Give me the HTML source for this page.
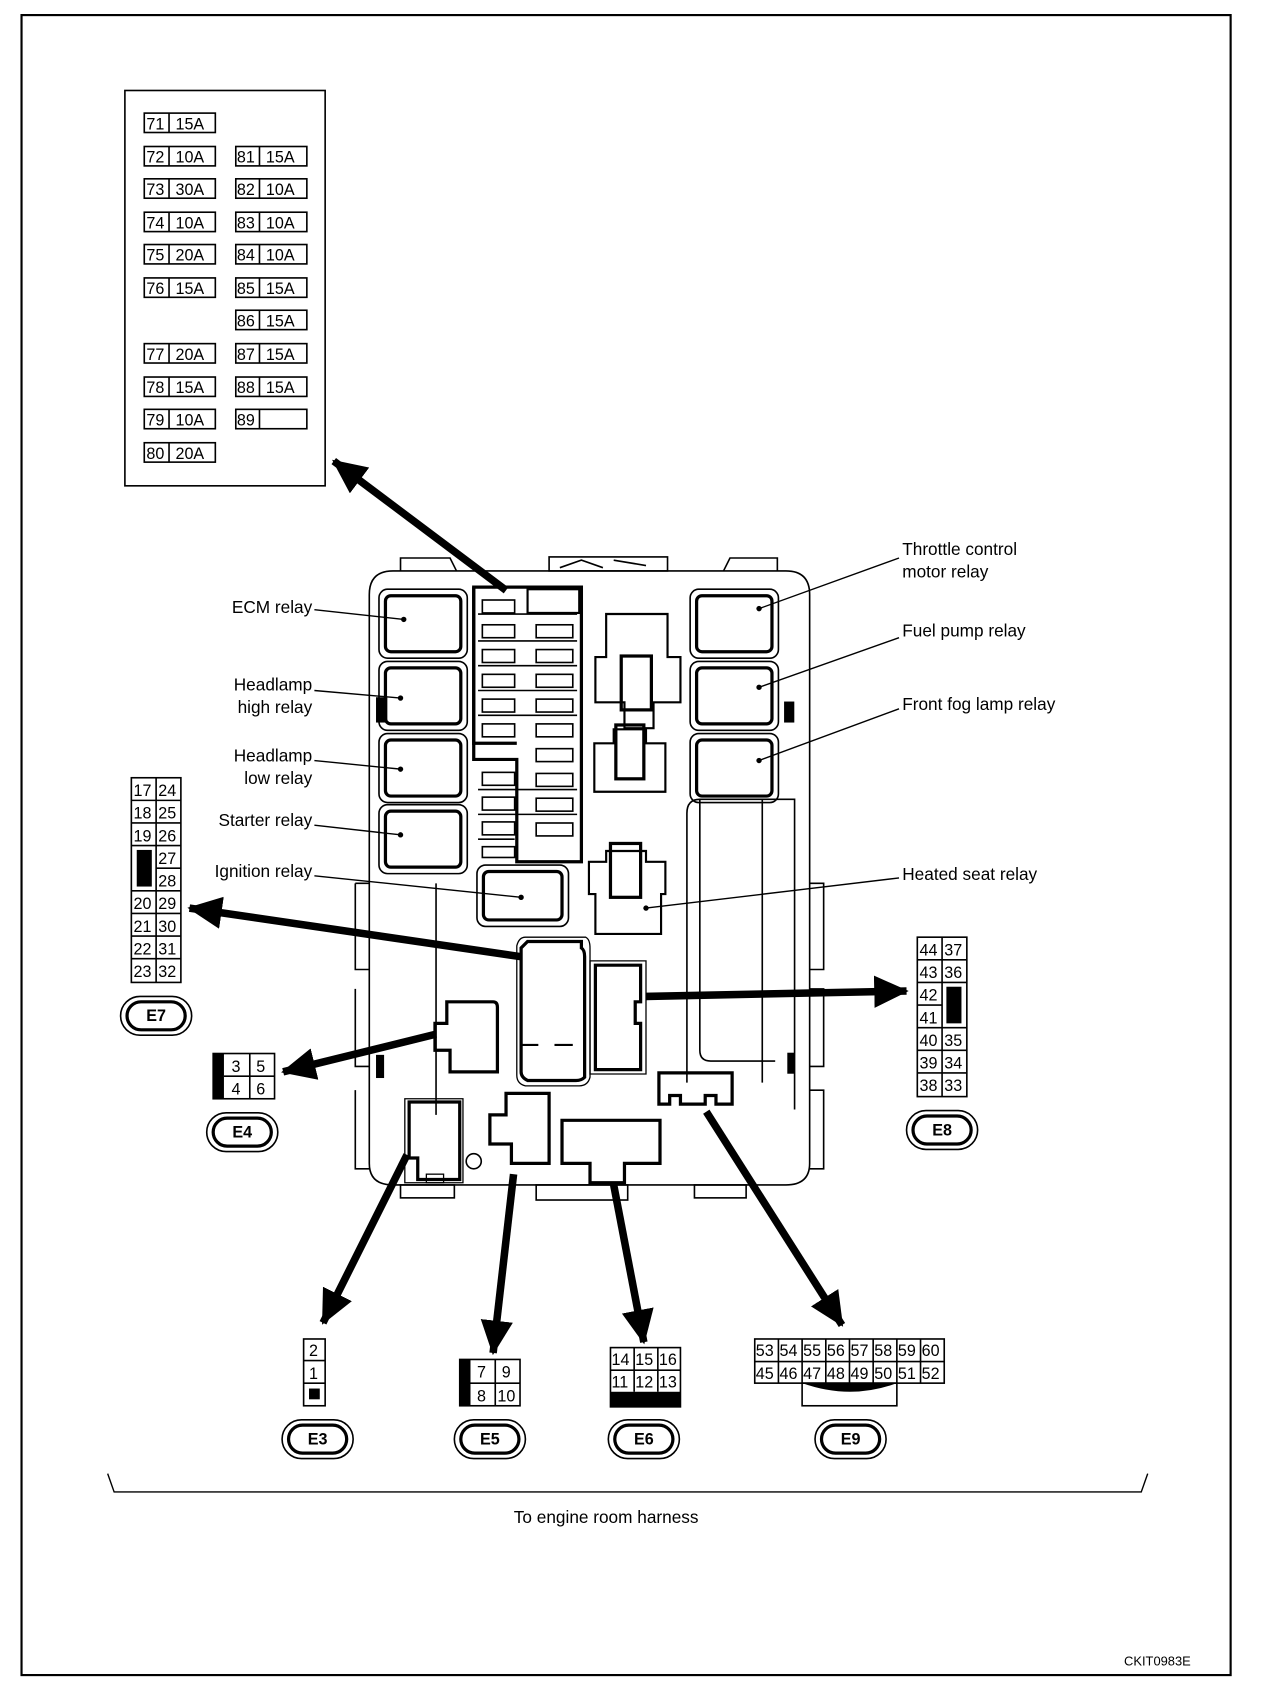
<!DOCTYPE html>
<html><head><meta charset="utf-8"><style>
html,body{margin:0;padding:0;background:#fff;}
svg{display:block;}
text{font-family:"Liberation Sans",sans-serif;fill:#000;}
</style></head><body>
<svg width="1264" height="1688" viewBox="0 0 1174 1567" preserveAspectRatio="none" xmlns="http://www.w3.org/2000/svg">
<defs>
<marker id="ah" markerUnits="userSpaceOnUse" markerWidth="34" markerHeight="30" refX="30" refY="15" orient="auto"><path d="M0,0 L32,15 L0,30 Z" fill="#000"/></marker>
</defs>
<rect x="0" y="0" width="1174" height="1567" fill="#fff"/>
<rect x="20" y="14" width="1123" height="1541" fill="none" stroke="#000" stroke-width="2"/>

<!-- fuse table -->
<rect x="116" y="84" width="186" height="367" fill="none" stroke="#000" stroke-width="1.5"/>
<g fill="none" stroke="#000" stroke-width="1.5">
<rect x="134" y="105" width="66" height="18"/><line x1="157" y1="105" x2="157" y2="123"/>
<rect x="134" y="136" width="66" height="18"/><line x1="157" y1="136" x2="157" y2="154"/>
<rect x="134" y="166" width="66" height="18"/><line x1="157" y1="166" x2="157" y2="184"/>
<rect x="134" y="197" width="66" height="18"/><line x1="157" y1="197" x2="157" y2="215"/>
<rect x="134" y="227" width="66" height="18"/><line x1="157" y1="227" x2="157" y2="245"/>
<rect x="134" y="258" width="66" height="18"/><line x1="157" y1="258" x2="157" y2="276"/>
<rect x="134" y="319" width="66" height="18"/><line x1="157" y1="319" x2="157" y2="337"/>
<rect x="134" y="350" width="66" height="18"/><line x1="157" y1="350" x2="157" y2="368"/>
<rect x="134" y="380" width="66" height="18"/><line x1="157" y1="380" x2="157" y2="398"/>
<rect x="134" y="411" width="66" height="18"/><line x1="157" y1="411" x2="157" y2="429"/>
<rect x="219" y="136" width="66" height="18"/><line x1="241" y1="136" x2="241" y2="154"/>
<rect x="219" y="166" width="66" height="18"/><line x1="241" y1="166" x2="241" y2="184"/>
<rect x="219" y="197" width="66" height="18"/><line x1="241" y1="197" x2="241" y2="215"/>
<rect x="219" y="227" width="66" height="18"/><line x1="241" y1="227" x2="241" y2="245"/>
<rect x="219" y="258" width="66" height="18"/><line x1="241" y1="258" x2="241" y2="276"/>
<rect x="219" y="288" width="66" height="18"/><line x1="241" y1="288" x2="241" y2="306"/>
<rect x="219" y="319" width="66" height="18"/><line x1="241" y1="319" x2="241" y2="337"/>
<rect x="219" y="350" width="66" height="18"/><line x1="241" y1="350" x2="241" y2="368"/>
<rect x="219" y="380" width="66" height="18"/><line x1="241" y1="380" x2="241" y2="398"/>
</g>
<g font-size="15">
<text x="136" y="120">71</text><text x="163" y="120">15A</text>
<text x="136" y="151">72</text><text x="163" y="151">10A</text>
<text x="136" y="181">73</text><text x="163" y="181">30A</text>
<text x="136" y="212">74</text><text x="163" y="212">10A</text>
<text x="136" y="242">75</text><text x="163" y="242">20A</text>
<text x="136" y="273">76</text><text x="163" y="273">15A</text>
<text x="136" y="334">77</text><text x="163" y="334">20A</text>
<text x="136" y="365">78</text><text x="163" y="365">15A</text>
<text x="136" y="395">79</text><text x="163" y="395">10A</text>
<text x="136" y="426">80</text><text x="163" y="426">20A</text>
<text x="220" y="151">81</text><text x="247" y="151">15A</text>
<text x="220" y="181">82</text><text x="247" y="181">10A</text>
<text x="220" y="212">83</text><text x="247" y="212">10A</text>
<text x="220" y="242">84</text><text x="247" y="242">10A</text>
<text x="220" y="273">85</text><text x="247" y="273">15A</text>
<text x="220" y="303">86</text><text x="247" y="303">15A</text>
<text x="220" y="334">87</text><text x="247" y="334">15A</text>
<text x="220" y="365">88</text><text x="247" y="365">15A</text>
<text x="220" y="395">89</text>
</g>

<!-- fuse box body -->
<g fill="none" stroke="#000" stroke-width="1.5">
<path d="M365,530 H730 Q752,530 752,552 V1080 Q752,1100 730,1100 H365 Q343,1100 343,1080 V552 Q343,530 365,530 Z"/>
<path d="M372,530 V518 H418 L424,530"/><path d="M672,530 L678,518 H722 V530"/>
<rect x="510" y="517" width="110" height="13"/>
<path d="M520,527 L540,520 L560,527 M570,520 L600,525"/>
<rect x="372" y="1100" width="50" height="12"/><rect x="498" y="1100" width="85" height="14"/><rect x="645" y="1100" width="48" height="12"/>
<path d="M405,820 V1035" />
<path d="M330,820 H343 M330,820 V900 H343 M330,918 V990 H343 M330,1012 V1085 H343"/>
<path d="M752,820 H765 V900 H752 M752,918 H765 V990 H752 M752,1012 H765 V1085 H752"/>
<rect x="350" y="648" width="9" height="22" fill="#000"/><rect x="729" y="652" width="8" height="18" fill="#000"/>
<rect x="350" y="980" width="6" height="20" fill="#000"/><rect x="732" y="978" width="5" height="18" fill="#000"/>
<path d="M638,1005 V755 Q638,742 650,742 H738 V1030"/>
<path d="M650,742 V975 Q650,985 660,985 H720"/><line x1="708" y1="742" x2="708" y2="1005"/>
</g>
<!-- relays -->
<g fill="none" stroke="#000">
<g stroke-width="1.5">
<rect x="352" y="547" width="82" height="64" rx="8"/><rect x="352" y="614" width="82" height="64" rx="8"/>
<rect x="352" y="681" width="82" height="64" rx="8"/><rect x="352" y="747" width="82" height="64" rx="8"/>
<rect x="641" y="547" width="82" height="64" rx="8"/><rect x="641" y="614" width="82" height="64" rx="8"/>
<rect x="641" y="681" width="82" height="64" rx="8"/>
<rect x="443" y="803" width="85" height="57" rx="8"/>
</g>
<g stroke-width="3">
<rect x="358" y="553" width="70" height="52" rx="5"/><rect x="358" y="620" width="70" height="52" rx="5"/>
<rect x="358" y="687" width="70" height="52" rx="5"/><rect x="358" y="753" width="70" height="52" rx="5"/>
<rect x="647" y="553" width="70" height="52" rx="5"/><rect x="647" y="620" width="70" height="52" rx="5"/>
<rect x="647" y="687" width="70" height="52" rx="5"/>
<rect x="449" y="809" width="73" height="45" rx="5"/>
</g>
</g>
<g fill="#000"><circle cx="375" cy="575" r="2.5"/><circle cx="372" cy="648" r="2.5"/><circle cx="372" cy="714" r="2.5"/><circle cx="372" cy="775" r="2.5"/><circle cx="484" cy="833" r="2.5"/>
<circle cx="705" cy="565" r="2.5"/><circle cx="705" cy="638" r="2.5"/><circle cx="705" cy="706" r="2.5"/><circle cx="600" cy="843" r="2.5"/></g>
<!-- fuse block -->
<g fill="none" stroke="#000">
<path d="M440,545 H540 V800 H480 V705 H440 Z" stroke-width="3"/>
<path d="M440,545 V690 H480" stroke-width="3"/>
<rect x="490" y="547" width="48" height="22" fill="#fff" stroke-width="2"/>
<g stroke-width="1.5">
<rect x="448" y="557" width="30" height="12"/><rect x="448" y="580" width="30" height="12"/><rect x="448" y="603" width="30" height="12"/><rect x="448" y="626" width="30" height="12"/><rect x="448" y="649" width="30" height="12"/><rect x="448" y="672" width="30" height="12"/>
<rect x="448" y="717" width="30" height="12"/><rect x="448" y="740" width="30" height="12"/><rect x="448" y="763" width="30" height="12"/><rect x="448" y="786" width="30" height="10"/>
<rect x="498" y="580" width="34" height="12"/><rect x="498" y="603" width="34" height="12"/><rect x="498" y="626" width="34" height="12"/><rect x="498" y="649" width="34" height="12"/><rect x="498" y="672" width="34" height="12"/><rect x="498" y="695" width="34" height="12"/><rect x="498" y="718" width="34" height="12"/><rect x="498" y="741" width="34" height="12"/><rect x="498" y="764" width="34" height="12"/>
<line x1="444" y1="570" x2="536" y2="570"/><line x1="444" y1="595" x2="536" y2="595"/><line x1="444" y1="618" x2="536" y2="618"/><line x1="444" y1="641" x2="536" y2="641"/><line x1="444" y1="664" x2="536" y2="664"/><line x1="444" y1="733" x2="536" y2="733"/><line x1="444" y1="756" x2="536" y2="756"/><line x1="444" y1="779" x2="478" y2="779"/>
</g></g>
<!-- central plug connectors -->
<g fill="none" stroke="#000" stroke-width="2">
<path d="M563,570 H620 V610 H632 V652 H607 V676 H580 V652 H553 V610 H563 Z"/>
<rect x="577" y="609" width="28" height="50" stroke-width="3"/>
<path d="M570,677 H600 V690 H618 V735 H552 V690 H570 Z"/><rect x="572" y="673" width="26" height="50" stroke-width="3"/>
<path d="M563,790 H600 V800 H618 V830 H614 V867 H553 V830 H547 V800 H563 Z"/><rect x="567" y="783" width="28" height="50" stroke-width="3"/>
<path d="M490,874 H540 V880 Q543,882 543,888 V1000 Q540,1003 535,1003 H490 Q484,1000 484,995 V880 Z" stroke-width="3"/>
<path d="M488,870 H544 Q548,872 548,880 V1000 Q546,1008 538,1008 H488 Q480,1006 480,998 V878 Q482,870 488,870 Z" stroke-width="1.2"/>
<line x1="485" y1="970" x2="500" y2="970"/><line x1="515" y1="970" x2="532" y2="970"/>
<path d="M553,896 H595 V930 H590 V950 H595 V993 H553 Z" stroke-width="3"/>
<path d="M548,892 H600 V997 H548 Z" stroke-width="1.2"/>
<path d="M415,930 H458 Q462,930 462,935 V995 H418 V975 H404 V950 H415 Z" stroke-width="3"/>
<path d="M418,1023 H427 V1095 H388 V1075 H380 V1023 Z" stroke-width="3"/><path d="M376,1020 H430 V1098 H376 Z" stroke-width="1.2"/>
<rect x="396" y="1090" width="16" height="8" stroke-width="1.2"/>
<circle cx="440" cy="1078" r="7" stroke-width="1.5"/>
<path d="M470,1015 H510 V1080 H475 V1062 H455 V1035 H470 Z" stroke-width="3"/>
<path d="M522,1040 H613 V1080 H580 V1098 H548 V1080 H522 Z" stroke-width="3"/>
<path d="M612,996 H680 V1025 H665 V1017 H655 V1025 H632 V1017 H622 V1025 H612 Z" stroke-width="3"/>
</g>

<!-- leader lines -->
<g stroke="#000" stroke-width="1.3">
<line x1="292" y1="566" x2="375" y2="575"/><line x1="292" y1="641" x2="372" y2="648"/>
<line x1="292" y1="706" x2="372" y2="714"/><line x1="292" y1="766" x2="372" y2="775"/>
<line x1="292" y1="813" x2="484" y2="833"/>
<line x1="835" y1="518" x2="705" y2="565"/><line x1="835" y1="592" x2="705" y2="638"/>
<line x1="835" y1="658" x2="705" y2="706"/><line x1="835" y1="815" x2="600" y2="843"/>
</g>
<g font-size="16">
<text x="290" y="569" text-anchor="end">ECM relay</text>
<text x="290" y="641" text-anchor="end">Headlamp</text><text x="290" y="662" text-anchor="end">high relay</text>
<text x="290" y="707" text-anchor="end">Headlamp</text><text x="290" y="728" text-anchor="end">low relay</text>
<text x="290" y="767" text-anchor="end">Starter relay</text>
<text x="290" y="814" text-anchor="end">Ignition relay</text>
<text x="838" y="515">Throttle control</text><text x="838" y="536">motor relay</text>
<text x="838" y="591">Fuel pump relay</text>
<text x="838" y="659">Front fog lamp relay</text>
<text x="838" y="817">Heated seat relay</text>
</g>

<!-- arrows -->
<g stroke="#000" stroke-width="7" marker-end="url(#ah)" fill="none">
<line x1="470" y1="548" x2="310" y2="428"/>
<line x1="483" y1="888" x2="176" y2="843"/>
<line x1="405" y1="960" x2="263" y2="995"/>
<line x1="600" y1="925" x2="842" y2="920"/>
<line x1="378" y1="1072" x2="300" y2="1228"/>
<line x1="477" y1="1090" x2="458" y2="1256"/>
<line x1="570" y1="1100" x2="598" y2="1246"/>
<line x1="656" y1="1032" x2="782" y2="1230"/>
</g>

<!-- E7 -->
<g fill="none" stroke="#000" stroke-width="1.5">
<rect x="122" y="722" width="46" height="190"/><line x1="145" y1="722" x2="145" y2="912"/>
<line x1="122" y1="743" x2="168" y2="743"/><line x1="122" y1="764" x2="168" y2="764"/><line x1="122" y1="785" x2="168" y2="785"/>
<line x1="145" y1="806" x2="168" y2="806"/><line x1="122" y1="827" x2="168" y2="827"/><line x1="122" y1="848" x2="168" y2="848"/>
<line x1="122" y1="869" x2="168" y2="869"/><line x1="122" y1="890" x2="168" y2="890"/>
</g>
<rect x="127" y="789" width="14" height="34" fill="#000"/>
<g font-size="15">
<text x="124" y="739">17</text><text x="147" y="739">24</text><text x="124" y="760">18</text><text x="147" y="760">25</text>
<text x="124" y="781">19</text><text x="147" y="781">26</text><text x="147" y="802">27</text><text x="147" y="823">28</text>
<text x="124" y="844">20</text><text x="147" y="844">29</text><text x="124" y="865">21</text><text x="147" y="865">30</text>
<text x="124" y="886">22</text><text x="147" y="886">31</text><text x="124" y="907">23</text><text x="147" y="907">32</text>
</g>
<!-- E8 -->
<g fill="none" stroke="#000" stroke-width="1.5">
<rect x="852" y="870" width="46" height="148"/><line x1="875" y1="870" x2="875" y2="1018"/>
<line x1="852" y1="891" x2="898" y2="891"/><line x1="852" y1="912" x2="898" y2="912"/><line x1="852" y1="933" x2="875" y2="933"/>
<line x1="852" y1="954" x2="898" y2="954"/><line x1="852" y1="975" x2="898" y2="975"/><line x1="852" y1="996" x2="898" y2="996"/>
</g>
<rect x="879" y="916" width="14" height="34" fill="#000"/>
<g font-size="15">
<text x="854" y="887">44</text><text x="877" y="887">37</text><text x="854" y="908">43</text><text x="877" y="908">36</text>
<text x="854" y="929">42</text><text x="854" y="950">41</text>
<text x="854" y="971">40</text><text x="877" y="971">35</text><text x="854" y="992">39</text><text x="877" y="992">34</text>
<text x="854" y="1013">38</text><text x="877" y="1013">33</text>
</g>
<!-- E4 -->
<rect x="198" y="978" width="10" height="42" fill="#000"/>
<g fill="none" stroke="#000" stroke-width="1.5"><rect x="198" y="978" width="57" height="42"/><line x1="232" y1="978" x2="232" y2="1020"/><line x1="208" y1="999" x2="255" y2="999"/></g>
<g font-size="15"><text x="215" y="995">3</text><text x="238" y="995">5</text><text x="215" y="1016">4</text><text x="238" y="1016">6</text></g>
<!-- E3 -->
<g fill="none" stroke="#000" stroke-width="1.5"><rect x="282" y="1243" width="20" height="62"/><line x1="282" y1="1263" x2="302" y2="1263"/><line x1="282" y1="1284" x2="302" y2="1284"/></g>
<rect x="287" y="1289" width="10" height="10" fill="#000"/>
<g font-size="15"><text x="287" y="1259">2</text><text x="287" y="1280">1</text></g>
<!-- E5 -->
<rect x="427" y="1262" width="10" height="43" fill="#000"/>
<g fill="none" stroke="#000" stroke-width="1.5"><rect x="427" y="1262" width="56" height="43"/><line x1="460" y1="1262" x2="460" y2="1305"/><line x1="437" y1="1284" x2="483" y2="1284"/></g>
<g font-size="15"><text x="443" y="1279">7</text><text x="466" y="1279">9</text><text x="443" y="1301">8</text><text x="462" y="1301">10</text></g>
<!-- E6 -->
<rect x="567" y="1292" width="65" height="14" fill="#000"/>
<g fill="none" stroke="#000" stroke-width="1.5"><rect x="567" y="1251" width="65" height="55"/><line x1="589" y1="1251" x2="589" y2="1292"/><line x1="611" y1="1251" x2="611" y2="1292"/><line x1="567" y1="1272" x2="632" y2="1272"/></g>
<g font-size="15"><text x="568" y="1267">14</text><text x="590" y="1267">15</text><text x="612" y="1267">16</text><text x="568" y="1288">11</text><text x="590" y="1288">12</text><text x="612" y="1288">13</text></g>
<!-- E9 -->
<g fill="none" stroke="#000" stroke-width="1.5"><rect x="701" y="1243" width="176" height="41"/><line x1="701" y1="1264" x2="877" y2="1264"/>
<line x1="723" y1="1243" x2="723" y2="1284"/><line x1="745" y1="1243" x2="745" y2="1284"/><line x1="767" y1="1243" x2="767" y2="1284"/><line x1="789" y1="1243" x2="789" y2="1284"/><line x1="811" y1="1243" x2="811" y2="1284"/><line x1="833" y1="1243" x2="833" y2="1284"/><line x1="855" y1="1243" x2="855" y2="1284"/>
<rect x="745" y="1284" width="88" height="21"/></g>
<path d="M745,1284 H833 Q790,1300 745,1284 Z" fill="#000"/>
<g font-size="15">
<text x="702" y="1259">53</text><text x="724" y="1259">54</text><text x="746" y="1259">55</text><text x="768" y="1259">56</text><text x="790" y="1259">57</text><text x="812" y="1259">58</text><text x="834" y="1259">59</text><text x="856" y="1259">60</text>
<text x="702" y="1280">45</text><text x="724" y="1280">46</text><text x="746" y="1280">47</text><text x="768" y="1280">48</text><text x="790" y="1280">49</text><text x="812" y="1280">50</text><text x="834" y="1280">51</text><text x="856" y="1280">52</text>
</g>

<!-- ovals -->
<g fill="none" stroke="#000">
<g stroke-width="1.5">
<rect x="112" y="925" width="66" height="36" rx="18"/><rect x="192" y="1033" width="66" height="36" rx="18"/><rect x="842" y="1031" width="66" height="36" rx="18"/>
<rect x="262" y="1318" width="66" height="36" rx="18"/><rect x="422" y="1318" width="66" height="36" rx="18"/><rect x="565" y="1318" width="66" height="36" rx="18"/><rect x="757" y="1318" width="66" height="36" rx="18"/>
</g>
<g stroke-width="3">
<rect x="118" y="930" width="54" height="26" rx="13"/><rect x="198" y="1038" width="54" height="26" rx="13"/><rect x="848" y="1036" width="54" height="26" rx="13"/>
<rect x="268" y="1323" width="54" height="26" rx="13"/><rect x="428" y="1323" width="54" height="26" rx="13"/><rect x="571" y="1323" width="54" height="26" rx="13"/><rect x="763" y="1323" width="54" height="26" rx="13"/>
</g></g>
<g font-size="15" font-weight="bold" text-anchor="middle">
<text x="145" y="948">E7</text><text x="225" y="1056">E4</text><text x="875" y="1054">E8</text>
<text x="295" y="1341">E3</text><text x="455" y="1341">E5</text><text x="598" y="1341">E6</text><text x="790" y="1341">E9</text>
</g>

<!-- bracket -->
<path d="M100,1368 L106,1385 H1060 L1066,1368" fill="none" stroke="#000" stroke-width="1.3"/>
<text x="563" y="1414" font-size="16" text-anchor="middle">To engine room harness</text>
<text x="1075" y="1546" font-size="12" text-anchor="middle">CKIT0983E</text>
</svg>
</body></html>
